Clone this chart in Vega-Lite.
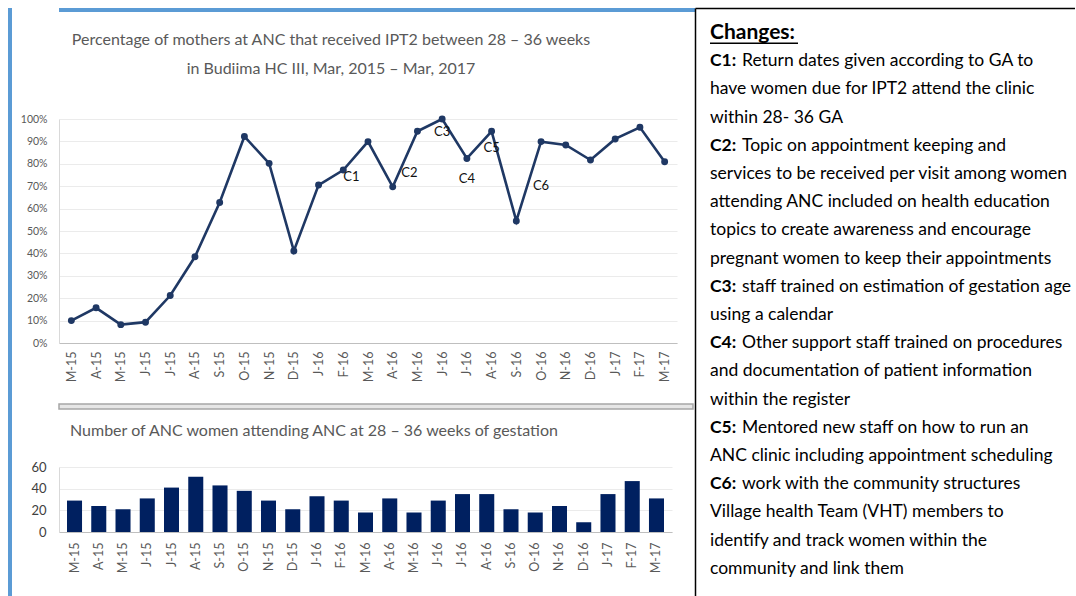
{
  "$schema": "https://vega.github.io/schema/vega-lite/v6.json",
  "background": "white",
  "padding": {"left": 7, "top": 7, "right": 0, "bottom": 0},
  "config": {"font": "Lato", "view": {"stroke": null}},
  "datasets": {
    "ipt": [
      {"month": "Mar-15", "pct": 0.100, "n": 29},
      {"month": "Apr-15", "pct": 0.157, "n": 24},
      {"month": "May-15", "pct": 0.082, "n": 21},
      {"month": "Jun-15", "pct": 0.093, "n": 31},
      {"month": "Jul-15", "pct": 0.212, "n": 41},
      {"month": "Aug-15", "pct": 0.385, "n": 51},
      {"month": "Sep-15", "pct": 0.627, "n": 43},
      {"month": "Oct-15", "pct": 0.922, "n": 38},
      {"month": "Nov-15", "pct": 0.802, "n": 29},
      {"month": "Dec-15", "pct": 0.411, "n": 21},
      {"month": "Jan-16", "pct": 0.705, "n": 33},
      {"month": "Feb-16", "pct": 0.772, "n": 29, "note": "C1", "note_pct": 0.742},
      {"month": "Mar-16", "pct": 0.899, "n": 18},
      {"month": "Apr-16", "pct": 0.697, "n": 31},
      {"month": "May-16", "pct": 0.945, "n": 18, "note": "C2", "note_pct": 0.76},
      {"month": "Jun-16", "pct": 1.000, "n": 29, "note": "C3", "note_pct": 0.94},
      {"month": "Jul-16", "pct": 0.824, "n": 35, "note": "C4", "note_pct": 0.734},
      {"month": "Aug-16", "pct": 0.945, "n": 35, "note": "C5", "note_pct": 0.869},
      {"month": "Sep-16", "pct": 0.545, "n": 21},
      {"month": "Oct-16", "pct": 0.899, "n": 18, "note": "C6", "note_pct": 0.699},
      {"month": "Nov-16", "pct": 0.884, "n": 24},
      {"month": "Dec-16", "pct": 0.817, "n": 9},
      {"month": "Jan-17", "pct": 0.911, "n": 35},
      {"month": "Feb-17", "pct": 0.963, "n": 47},
      {"month": "Mar-17", "pct": 0.809, "n": 31}
    ],
    "heads": [
      {"line": 1, "head": "C1:", "rest": "Return dates given according to GA to"},
      {"line": 4, "head": "C2:", "rest": "Topic on appointment keeping and"},
      {"line": 9, "head": "C3:", "rest": "staff trained on estimation of gestation age"},
      {"line": 11, "head": "C4:", "rest": "Other support staff trained on procedures"},
      {"line": 14, "head": "C5:", "rest": "Mentored new staff on how to run an"},
      {"line": 16, "head": "C6:", "rest": "work with the community structures"}
    ],
    "lines": [
      {"line": 2, "text": "have women due for IPT2 attend the clinic"},
      {"line": 3, "text": "within 28- 36 GA"},
      {"line": 5, "text": "services to be received per visit among women"},
      {"line": 6, "text": "attending ANC included on health education"},
      {"line": 7, "text": "topics to create awareness and encourage"},
      {"line": 8, "text": "pregnant women to keep their appointments"},
      {"line": 10, "text": "using a calendar"},
      {"line": 12, "text": "and documentation of patient information"},
      {"line": 13, "text": "within the register"},
      {"line": 15, "text": "ANC clinic including appointment scheduling"},
      {"line": 17, "text": "Village health Team (VHT) members to"},
      {"line": 18, "text": "identify and track women within the"},
      {"line": 19, "text": "community and link them"}
    ],
    "header": [{"line": 0, "text": "Changes:", "uline": 0.36, "x0": 0, "x1": 88}]
  },
  "spacing": 0,
  "hconcat": [
    {
      "width": 4, "height": 589,
      "data": {"values": [{}]},
      "mark": {"type": "point", "opacity": 0},
      "encoding": {},
      "view": {"fill": "#5b9bd5", "stroke": null}
    },
    {
      "spacing": 0,
      "vconcat": [
        {
          "width": 636, "height": 4,
          "data": {"values": [{}]},
          "mark": {"type": "point", "opacity": 0},
          "encoding": {},
          "view": {"fill": "#5b9bd5", "stroke": null}
        },
        {
          "width": 618,
          "height": 224,
          "data": {"name": "ipt"},
          "title": {
            "text": " ",
            "fontSize": 12,
            "subtitle": ["Percentage of mothers at ANC that received IPT2 between 28 – 36 weeks", "in Budiima HC III, Mar, 2015 – Mar, 2017"],
            "subtitleFontSize": 16,
            "subtitleColor": "#595959",
            "subtitleLineHeight": 29,
            "subtitlePadding": 5,
            "anchor": "middle",
            "dx": -37,
            "offset": 36
          },
          "encoding": {
            "x": {
              "field": "month", "type": "ordinal", "sort": null,
              "axis": {"title": null, "labelAngle": -90, "labelExpr": "slice(datum.label,0,1) + slice(datum.label,3)", "labelFontSize": 12.5, "labelColor": "#595959", "ticks": false, "labelPadding": 8, "domainColor": "#bfbfbf", "grid": false, "minExtent": 60}
            },
            "y": {
              "field": "pct", "type": "quantitative", "scale": {"domain": [0, 1]},
              "axis": {"title": null, "values": [0, 0.1, 0.2, 0.3, 0.4, 0.5, 0.6, 0.7, 0.8, 0.9, 1], "format": ".0%", "labelFontSize": 10.5, "labelColor": "#595959", "ticks": false, "labelPadding": 12, "domainColor": "#d9d9d9", "gridColor": "#ebebeb", "minExtent": 46}
            }
          },
          "layer": [
            {"mark": {"type": "line", "color": "#1f3864", "strokeWidth": 2.6}},
            {"mark": {"type": "point", "filled": true, "color": "#1f3864", "size": 48, "opacity": 1}},
            {
              "transform": [{"filter": "datum.note == 'C1'"}],
              "mark": {"type": "text", "fontSize": 13, "color": "#111111", "align": "left"},
              "encoding": {
                "y": {"field": "note_pct", "type": "quantitative"},
                "text": {"field": "note"}
              }
            },
            {
              "transform": [{"filter": "datum.note == 'C2'"}],
              "mark": {"type": "text", "fontSize": 13, "color": "#111111", "align": "right"},
              "encoding": {
                "y": {"field": "note_pct", "type": "quantitative"},
                "text": {"field": "note"}
              }
            },
            {
              "transform": [{"filter": "datum.note != null && datum.note != 'C1' && datum.note != 'C2'"}],
              "mark": {"type": "text", "fontSize": 13, "color": "#111111"},
              "encoding": {
                "y": {"field": "note_pct", "type": "quantitative"},
                "text": {"field": "note"}
              }
            }
          ]
        },
        {
          "width": 634, "height": 5,
          "data": {"values": [{}]},
          "mark": {"type": "point", "opacity": 0},
          "encoding": {},
          "view": {"fill": "#e6e6e6", "stroke": "#a6a6a6", "strokeWidth": 1.5}
        },
        {
          "width": 613,
          "height": 65,
          "data": {"name": "ipt"},
          "title": {
            "text": " ",
            "fontSize": 10,
            "subtitle": "Number of ANC women attending ANC at 28 – 36 weeks of gestation",
            "subtitleFontSize": 16,
            "subtitleColor": "#595959",
            "subtitlePadding": 3,
            "anchor": "start",
            "frame": "group",
            "dx": 11,
            "offset": 22
          },
          "mark": {"type": "bar", "color": "#002060"},
          "encoding": {
            "x": {
              "field": "month", "type": "ordinal", "sort": null,
              "scale": {"paddingInner": 0.38, "paddingOuter": 0.33},
              "axis": {"title": null, "labelAngle": -90, "labelExpr": "slice(datum.label,0,1) + slice(datum.label,3)", "labelFontSize": 12.5, "labelColor": "#595959", "ticks": false, "labelPadding": 10, "domainColor": "#bfbfbf", "grid": false}
            },
            "y": {
              "field": "n", "type": "quantitative", "scale": {"domain": [0, 60]},
              "axis": {"title": null, "values": [0, 20, 40, 60], "labelFontSize": 13, "labelColor": "#404040", "ticks": false, "labelPadding": 13, "domainColor": "#d9d9d9", "gridColor": "#ebebeb", "minExtent": 46}
            }
          }
        }
      ]
    },
    {
      "width": 380,
      "height": 588,
      "encoding": {
        "x": {"datum": 0, "type": "quantitative", "scale": {"domain": [-15, 365], "nice": false, "zero": false},
              "axis": {"orient": "top", "title": null, "labels": false, "ticks": false, "grid": false, "domainColor": "#000000", "domainWidth": 1.5}},
        "y": {"field": "line", "type": "quantitative", "scale": {"domain": [-0.8865, 19.965], "reverse": true, "nice": false, "zero": false},
              "axis": {"orient": "left", "title": null, "labels": false, "ticks": false, "grid": false, "domainColor": "#000000", "domainWidth": 1.5}}
      },
      "layer": [
        {"data": {"name": "lines"}, "mark": {"type": "text", "align": "left", "baseline": "middle", "fontSize": 17.5, "color": "#000000"}, "encoding": {"text": {"field": "text"}}},
        {"data": {"name": "heads"}, "mark": {"type": "text", "align": "left", "baseline": "middle", "fontSize": 17.5, "fontWeight": "bold", "color": "#000000"}, "encoding": {"text": {"field": "head"}}},
        {"data": {"name": "heads"}, "mark": {"type": "text", "align": "left", "baseline": "middle", "fontSize": 17.5, "color": "#000000", "dx": 32}, "encoding": {"text": {"field": "rest"}}},
        {"data": {"name": "header"}, "mark": {"type": "text", "align": "left", "baseline": "middle", "fontSize": 21, "fontWeight": "bold", "color": "#000000"}, "encoding": {"text": {"field": "text"}}},
        {"data": {"name": "header"}, "mark": {"type": "rule", "color": "#000000", "strokeWidth": 1.5},
         "encoding": {"x": {"field": "x0", "type": "quantitative"}, "x2": {"field": "x1"}, "y": {"field": "uline", "type": "quantitative"}}}
      ]
    }
  ]
}
